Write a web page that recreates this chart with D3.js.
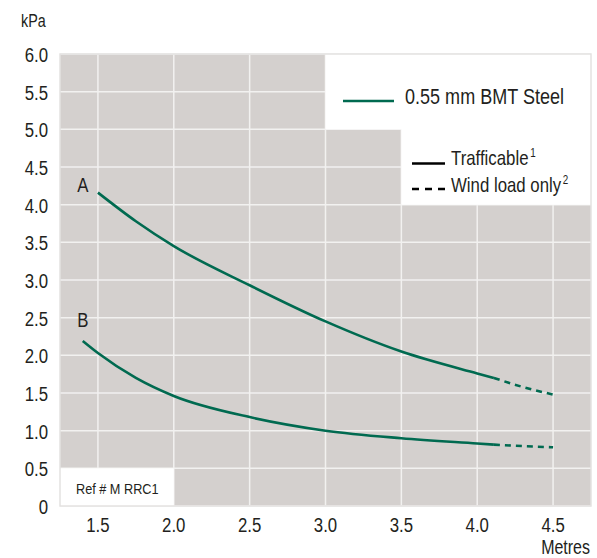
<!DOCTYPE html>
<html>
<head>
<meta charset="utf-8">
<script src="https://cdn.jsdelivr.net/npm/d3@7"></script>
<style>
	body { margin: 0; background: #fff; }
	text { font-family: "Liberation Sans Narrow", "Arial Narrow", "Liberation Sans", sans-serif; fill: #231f20; }
</style>
</head>
<body>
<div id="chart"></div>
<script>
// tick values
const xTicks = [1.5, 2.0, 2.5, 3.0, 3.5, 4.0, 4.5];
const yTicks = [0, 0.5, 1.0, 1.5, 2.0, 2.5, 3.0, 3.5, 4.0, 4.5, 5.0, 5.5, 6.0];

// curve A
const spanA = [1.5, 1.75, 2.0, 2.5, 3.0, 3.5, 4.0, 4.11];
const loadA = [4.16, 3.78, 3.45, 2.93, 2.45, 2.05, 1.76, 1.7];
const spanAWind = [4.11, 4.3, 4.5];
const loadAWind = [1.7, 1.58, 1.48];

// curve B
const spanB = [1.4, 1.5, 1.75, 2.0, 2.5, 3.0, 3.5, 4.0, 4.11];
const loadB = [2.19, 2.03, 1.7, 1.46, 1.18, 1.0, 0.9, 0.83, 0.815];
const spanBWind = [4.11, 4.3, 4.5];
const loadBWind = [0.815, 0.795, 0.78];

const curveNames = ["A", "B"];
const labelSpan = [1.4, 1.4];
const labelLoad = [4.17, 2.37];

// define dimensions of SVG
const width = 597;
const height = 558;
const margin = { top: 54, right: 6, bottom: 52, left: 60 };
const green = "#006a50";
const squeeze = 0.82; // no narrow font installed, so squash glyphs

const svg = d3
	.select("#chart")
	.append("svg")
	.attr("width", width)
	.attr("height", height);

// text helper: condensed look via horizontal scale
function addText(x, y, str, size, anchor) {
	return svg.append("text")
		.attr("transform", `translate(${x},${y}) scale(${squeeze},1)`)
		.attr("text-anchor", anchor || "start")
		.attr("font-size", size)
		.text(str);
}

// scales
const xScale = d3
	.scaleLinear()
	.domain([1.25, 4.75])
	.range([margin.left, width - margin.right]);

const yScale = d3
	.scaleLinear()
	.domain([0, 6])
	.range([height - margin.bottom, margin.top]);

// plot background
svg.append("rect")
	.attr("x", margin.left)
	.attr("y", margin.top)
	.attr("width", width - margin.left - margin.right)
	.attr("height", height - margin.top - margin.bottom)
	.attr("fill", "#d4d0ce");

// grid lines
xTicks.forEach((t) => {
	svg.append("line")
		.attr("x1", xScale(t))
		.attr("x2", xScale(t))
		.attr("y1", margin.top)
		.attr("y2", height - margin.bottom)
		.attr("stroke", "#f2f1f0")
		.attr("stroke-width", 1.5);
});
yTicks.forEach((t) => {
	svg.append("line")
		.attr("x1", margin.left)
		.attr("x2", width - margin.right)
		.attr("y1", yScale(t))
		.attr("y2", yScale(t))
		.attr("stroke", "#f2f1f0")
		.attr("stroke-width", 1.5);
});

// white legend area (stepped) and ref box
const legendArea = [
	[3.0, 6], [4.75, 6], [4.75, 4], [3.5, 4], [3.5, 5], [3.0, 5]
];
svg.append("path")
	.attr("d", d3.line().x((d) => xScale(d[0])).y((d) => yScale(d[1]))(legendArea) + "Z")
	.attr("fill", "#fff");

svg.append("rect")
	.attr("x", xScale(1.25))
	.attr("y", yScale(0.5))
	.attr("width", xScale(2.0) - xScale(1.25))
	.attr("height", yScale(0) - yScale(0.5))
	.attr("fill", "#fff");

// plot outline
svg.append("rect")
	.attr("x", margin.left)
	.attr("y", margin.top)
	.attr("width", width - margin.left - margin.right)
	.attr("height", height - margin.top - margin.bottom)
	.attr("fill", "none")
	.attr("stroke", "#e4e2e1")
	.attr("stroke-width", 1.5);

// curves
const line = d3
	.line()
	.x((d) => xScale(d[0]))
	.y((d) => yScale(d[1]))
	.curve(d3.curveMonotoneX);

const curves = [
	[d3.zip(spanA, loadA), null],
	[d3.zip(spanAWind, loadAWind), "6,5"],
	[d3.zip(spanB, loadB), null],
	[d3.zip(spanBWind, loadBWind), "6,5"],
];
curves.forEach(([pts, dash]) => {
	svg.append("path")
		.attr("d", line(pts))
		.attr("fill", "none")
		.attr("stroke", green)
		.attr("stroke-width", 2.6)
		.attr("stroke-dasharray", dash);
});

// curve labels
curveNames.forEach((name, i) => {
	addText(xScale(labelSpan[i]), yScale(labelLoad[i]), name, 20.5, "middle");
});

// axis labels
yTicks.forEach((t) => {
	addText(48, yScale(t) + 8, t === 0 ? "0" : d3.format(".1f")(t), 20.5, "end");
});
xTicks.forEach((t) => {
	addText(xScale(t), 531.5, d3.format(".1f")(t), 20.5, "middle");
});

addText(21, 27, "kPa", 17.5);
addText(width - 7, 553.5, "Metres", 19.5, "end");

// ref box text
addText(76, 494, "Ref # M RRC1", 15.5);

// legend
svg.append("line")
	.attr("x1", 343).attr("x2", 394)
	.attr("y1", 101).attr("y2", 101)
	.attr("stroke", green)
	.attr("stroke-width", 2.6);
addText(405, 104, "0.55 mm BMT Steel", 22);

svg.append("line")
	.attr("x1", 412).attr("x2", 445)
	.attr("y1", 163.5).attr("y2", 163.5)
	.attr("stroke", "#000")
	.attr("stroke-width", 2.6);
const t1 = addText(451, 165, "Trafficable", 20.5);
t1.append("tspan").attr("font-size", 12).attr("dy", -8).attr("dx", 2).text("1");

svg.append("line")
	.attr("x1", 412).attr("x2", 445)
	.attr("y1", 189).attr("y2", 189)
	.attr("stroke", "#000")
	.attr("stroke-width", 2.6)
	.attr("stroke-dasharray", "7,6");
const t2 = addText(451, 192, "Wind load only", 20.5);
t2.append("tspan").attr("font-size", 12).attr("dy", -8).attr("dx", 2).text("2");
</script>
</body>
</html>
